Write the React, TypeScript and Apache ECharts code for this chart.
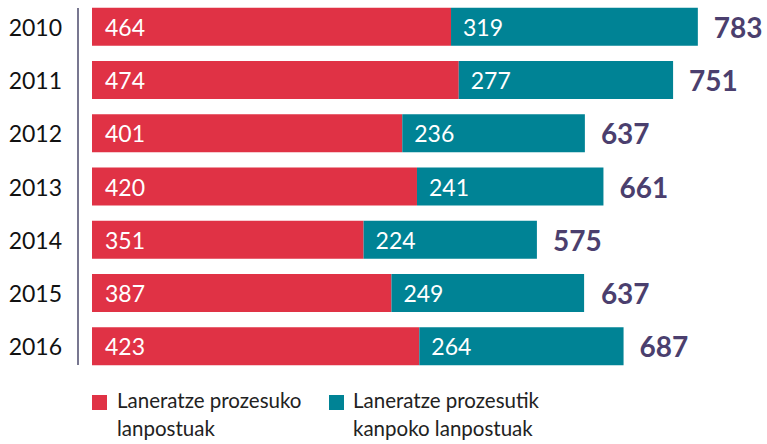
import React, { useEffect, useRef } from "react";
import * as echarts from "echarts";

const years = ["2010", "2011", "2012", "2013", "2014", "2015", "2016"];
const inside = [464, 474, 401, 420, 351, 387, 423];
const outside = [319, 277, 236, 241, 224, 249, 264];
const totals = [783, 751, 637, 661, 575, 637, 687];
const legendNames = ["Laneratze prozesuko\nlanpostuak", "Laneratze prozesutik\nkanpoko lanpostuak"];

const RED = "#e03245";
const TEAL = "#008395";
const FONT = "Lato";

export default function App() {
  const ref = useRef<HTMLDivElement>(null);
  useEffect(() => {
    document.body.style.margin = "0";
    const chart = echarts.init(ref.current!, undefined, { renderer: "svg" });
    chart.setOption({
      animation: false,
      grid: { left: 92, top: 0, right: 56, bottom: 71 },
      xAxis: { type: "value", min: 0, max: 800, show: false },
      yAxis: {
        type: "category",
        data: years,
        inverse: true,
        axisLine: { show: false },
        axisTick: { show: false },
        axisLabel: { color: "#111", fontSize: 23, fontFamily: FONT, margin: 30 },
      },
      series: [
        {
          type: "bar",
          stack: "s",
          data: inside,
          barWidth: 38,
          itemStyle: { color: RED },
          label: { show: true, position: "insideLeft", distance: 13, color: "#fff", fontSize: 23, fontFamily: FONT },
        },
        {
          type: "bar",
          stack: "s",
          data: outside,
          barWidth: 38,
          itemStyle: { color: TEAL },
          label: { show: true, position: "insideLeft", distance: 12, color: "#fff", fontSize: 23, fontFamily: FONT },
        },
        {
          type: "bar",
          data: totals,
          barWidth: 38,
          barGap: "-100%",
          silent: true,
          itemStyle: { color: "rgba(0,0,0,0)" },
          label: {
            show: true,
            position: "right",
            distance: 16,
            color: "#4b3f6e",
            fontSize: 28,
            fontWeight: "bold",
            fontFamily: FONT,
          },
        },
      ],
      graphic: [
        { type: "line", shape: { x1: 78, y1: 8, x2: 78, y2: 365 }, style: { stroke: "#4b4a6b", lineWidth: 1.5 } },
        { type: "rect", shape: { x: 92, y: 395, width: 15, height: 15 }, style: { fill: RED } },
        {
          type: "text",
          x: 117,
          y: 386,
          style: { text: legendNames[0], fill: "#222", fontSize: 20.5, lineHeight: 28, fontFamily: FONT },
        },
        { type: "rect", shape: { x: 329, y: 395, width: 15, height: 15 }, style: { fill: TEAL } },
        {
          type: "text",
          x: 353,
          y: 386,
          style: { text: legendNames[1], fill: "#222", fontSize: 20.5, lineHeight: 28, fontFamily: FONT },
        },
      ],
    });
    return () => chart.dispose();
  }, []);
  return <div ref={ref} style={{ width: 767, height: 444 }} />;
}
